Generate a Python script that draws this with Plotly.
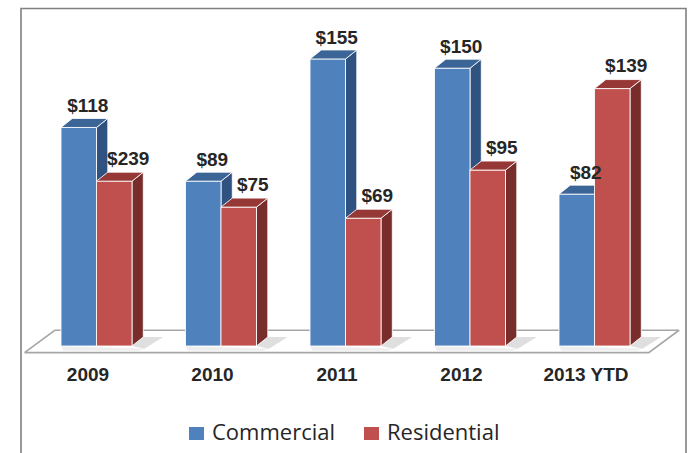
import plotly.graph_objects as go

# ---- data ----
categories = ["2009", "2010", "2011", "2012", "2013 YTD"]
commercial = [118, 89, 155, 150, 82]
residential = [89, 75, 69, 95, 139]          # plotted bar heights
commercial_labels = ["$118", "$89", "$155", "$150", "$82"]
residential_labels = ["$239", "$75", "$69", "$95", "$139"]
series_names = ["Commercial", "Residential"]

# ---- style ----
W, H = 689, 453
PX_PER_CAT = 124.5
CAT0_PX = 96.5
PX_PER_VAL = 1.852
BASE_PX = 346

BAR_W = 35.5 / PX_PER_CAT
DX = 11.3 / PX_PER_CAT
DY = 9.0 / PX_PER_VAL

blue = dict(front="#4F81BD", side="#2F5281", top="#3B6497")
red = dict(front="#C0504D", side="#782D2B", top="#963836")
edge = "rgba(255,255,255,0.85)"

xr = [(0 - CAT0_PX) / PX_PER_CAT, (W - CAT0_PX) / PX_PER_CAT]
yr = [(BASE_PX - H) / PX_PER_VAL, BASE_PX / PX_PER_VAL]

fig = go.Figure()

# floor (parallelogram)
n = len(categories)
fl_x0, fl_x1 = -0.578, n - 0.564
fl_back_dx, fl_front_v, fl_back_v = 0.243, -3.6, 8.5
fig.add_trace(go.Scatter(
    x=[fl_x0, fl_x0 + fl_back_dx, fl_x1 + fl_back_dx, fl_x1, fl_x0],
    y=[fl_front_v, fl_back_v, fl_back_v, fl_front_v, fl_front_v],
    fill="toself", fillcolor="#FFFFFF", mode="lines",
    line=dict(color="#A6A6A6", width=1.6), hoverinfo="skip", showlegend=False))

# soft shadows on floor
for i in range(n):
    xe = i + BAR_W
    fig.add_trace(go.Scatter(
        x=[xe, xe + DX, xe + DX + 0.16, xe + 0.10, xe],
        y=[0, DY, DY, -1.5, 0],
        fill="toself", fillcolor="rgba(150,150,150,0.30)", mode="lines",
        line=dict(width=0), hoverinfo="skip", showlegend=False))
    fig.add_trace(go.Scatter(
        x=[i - BAR_W, xe + 0.10, xe + 0.05, i - BAR_W + 0.02, i - BAR_W],
        y=[0, -1.5, -2.6, -2.6, 0],
        fill="toself", fillcolor="rgba(200,200,200,0.30)", mode="lines",
        line=dict(width=0), hoverinfo="skip", showlegend=False))


def faces(values, offset):
    fx, fy, sx, sy, tx, ty = [], [], [], [], [], []
    for i, v in enumerate(values):
        x0 = i + offset
        x1 = x0 + BAR_W
        fx += [x0, x1, x1, x0, x0, None]
        fy += [0, 0, v, v, 0, None]
        sx += [x1, x1 + DX, x1 + DX, x1, x1, None]
        sy += [0, DY, v + DY, v, 0, None]
        tx += [x0, x1, x1 + DX, x0 + DX, x0, None]
        ty += [v, v, v + DY, v + DY, v, None]
    return (fx, fy), (sx, sy), (tx, ty)


for vals, off, col in [(commercial, -BAR_W, blue), (residential, 0.0, red)]:
    (fx, fy), (sx, sy), (tx, ty) = faces(vals, off)
    for (xx, yy, c) in [(sx, sy, col["side"]), (fx, fy, col["front"]), (tx, ty, col["top"])]:
        fig.add_trace(go.Scatter(x=xx, y=yy, fill="toself", fillcolor=c, mode="lines",
                                 line=dict(color=edge, width=1), hoverinfo="skip",
                                 showlegend=False))

# data labels
lab_font = dict(family="Liberation Sans, Arial, sans-serif", size=19, color="#262626")
fig.add_trace(go.Scatter(
    x=[i - BAR_W / 2 + 9 / PX_PER_CAT for i in range(n)],
    y=[v + 20 / PX_PER_VAL for v in commercial],
    text=[f"<b>{t}</b>" for t in commercial_labels], mode="text",
    textposition="middle center", textfont=lab_font, hoverinfo="skip", showlegend=False))
fig.add_trace(go.Scatter(
    x=[i + BAR_W / 2 + 14 / PX_PER_CAT for i in range(n)],
    y=[v + 21 / PX_PER_VAL for v in residential],
    text=[f"<b>{t}</b>" for t in residential_labels], mode="text",
    textposition="middle center", textfont=lab_font, hoverinfo="skip", showlegend=False))

# category labels
fig.add_trace(go.Scatter(
    x=[i - 8.5 / PX_PER_CAT for i in range(n)],
    y=[(BASE_PX - 376.5) / PX_PER_VAL] * n,
    text=[f"<b>{c}</b>" for c in categories], mode="text",
    textposition="middle center", textfont=lab_font, hoverinfo="skip", showlegend=False))

# frame
fig.add_shape(type="rect", xref="paper", yref="paper",
              x0=21 / W, x1=686 / W, y0=-0.2, y1=1 - 8.5 / H,
              line=dict(color="#808080", width=1.6), fillcolor="rgba(0,0,0,0)", layer="below")

# legend (manual)
leg_font = dict(family="Open Sans, Noto Sans, sans-serif", size=22, color="#262626")
for name, col, sq_x, tx_x in [(series_names[0], blue["front"], 189, 210),
                              (series_names[1], red["front"], 364, 385)]:
    fig.add_shape(type="rect", xref="paper", yref="paper",
                  x0=sq_x / W, x1=(sq_x + 15) / W, y0=1 - 440 / H, y1=1 - 427 / H,
                  line=dict(width=0), fillcolor=col)
    fig.add_annotation(xref="paper", yref="paper", x=tx_x / W, y=1 - 431 / H,
                       text=name, showarrow=False, xanchor="left", yanchor="middle",
                       font=leg_font)

fig.update_layout(
    width=W, height=H, margin=dict(l=0, r=0, t=0, b=0),
    paper_bgcolor="white", plot_bgcolor="white",
    xaxis=dict(range=xr, visible=False, fixedrange=True),
    yaxis=dict(range=yr, visible=False, fixedrange=True),
    showlegend=False,
)
fig.write_html("out.html")
